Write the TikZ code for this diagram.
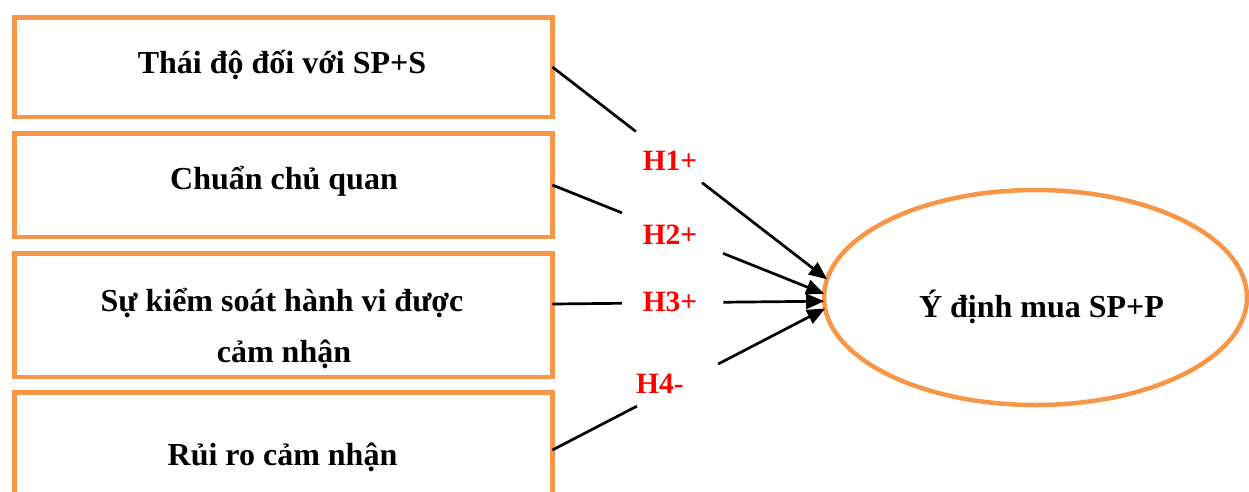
\documentclass[tikz,border=0pt]{standalone}
\usepackage{fontspec}
\setmainfont{Liberation Serif}
\usetikzlibrary{arrows.meta,calc,shapes.geometric}
\definecolor{accentorange}{RGB}{247,150,70}
\begin{document}
\begin{tikzpicture}[x=1pt,y=-1pt,
  factor/.style={draw=accentorange, line width=4.5pt, inner sep=0pt, outer sep=0pt},
  outcome/.style={ellipse, draw=accentorange, line width=4.5pt, inner sep=0pt, outer sep=0pt},
  caption/.style={anchor=base, font=\fontsize{32}{38}\selectfont\bfseries, inner sep=0pt},
  hyp/.style={anchor=base, font=\fontsize{29.5}{35}\selectfont\bfseries, text=red, inner sep=0pt},
  link/.style={line width=2.7pt, black},
  tip/.style={-{Triangle[length=18pt,width=15pt]}}
]
\useasboundingbox (0,0) rectangle (1249,491);

% predictor boxes
\node[factor, minimum width=538, minimum height=99.5]  (b1) at (283.4,67)  {};
\node[factor, minimum width=538, minimum height=103.5] (b2) at (283.4,185) {};
\node[factor, minimum width=538, minimum height=123.5] (b3) at (283.4,315) {};
\node[factor, minimum width=538, minimum height=137.5] (b4) at (283.4,461) {};

% outcome ellipse
\node[outcome, minimum width=423, minimum height=215] (e) at (1035.5,297.5) {};

% texts
\node[caption] (c1)  at (282,73)   {Thái độ đối với SP+S};
\node[caption] (c2)  at (284,189)  {Chuẩn chủ quan};
\node[caption] (c3a) at (282,311)  {Sự kiểm soát hành vi được};
\node[caption] (c3b) at (284,362)  {cảm nhận};
\node[caption] (c4)  at (282.5,465) {Rủi ro cảm nhận};
\node[caption] (c5)  at (1041.5,317) {Ý định mua SP+P};

% connector end points
\coordinate (s3) at ([yshift=11pt]b3.east);
\coordinate (s4) at ([yshift=11pt]b4.east);
\coordinate (t1) at (e.175);
\coordinate (t2) at (e.179);
\coordinate (t3) at (e.181.7);
\coordinate (t4) at (e.183);

% paths, interrupted around the hypothesis labels
\draw[link] (b1.east) -- ($(b1.east)!0.304!(t1)$);
\draw[link,tip] ($(b1.east)!0.545!(t1)$) -- (t1);
\draw[link] (b2.east) -- ($(b2.east)!0.256!(t2)$);
\draw[link,tip] ($(b2.east)!0.628!(t2)$) -- (t2);
\draw[link] (s3) -- ($(s3)!0.256!(t3)$);
\draw[link,tip] ($(s3)!0.629!(t3)$) -- (t3);
\draw[link] (s4) -- ($(s4)!0.31!(t4)$);
\draw[link,tip] ($(s4)!0.608!(t4)$) -- (t4);

% hypothesis labels
\node[hyp] (h1) at (670,170) {H1+};
\node[hyp] (h2) at (670,244) {H2+};
\node[hyp] (h3) at (670,311) {H3+};
\node[hyp] (h4) at (660,393) {H4-};
\end{tikzpicture}
\end{document}
